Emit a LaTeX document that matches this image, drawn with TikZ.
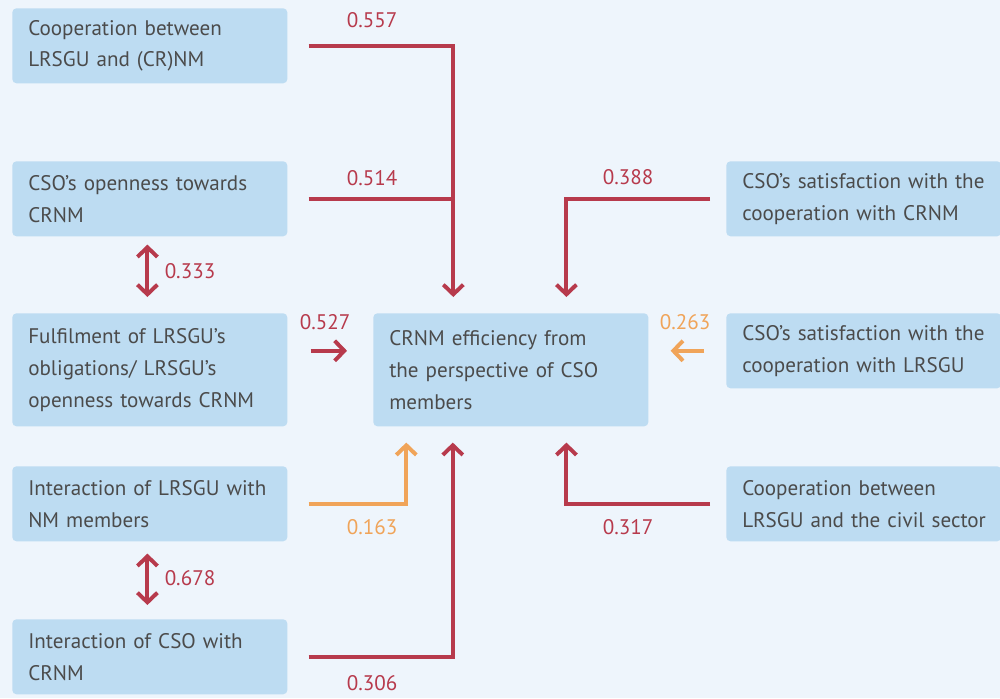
\documentclass[tikz,border=0pt]{standalone}
\usepackage{fontspec}
\setmainfont{PT Sans}
\usepackage{xcolor}
\usetikzlibrary{calc,arrows.meta}
\definecolor{bgblue}{HTML}{EEF5FC}
\definecolor{boxblue}{HTML}{BDDCF2}
\definecolor{txtgray}{HTML}{4B4B4B}
\definecolor{linkred}{HTML}{B73A4C}
\definecolor{linkorange}{HTML}{F0A459}
\tikzset{every node/.append style={font=\fontsize{15}{22.7}\selectfont}}
\tikzset{
  box/.style={fill=boxblue, rounded corners=3pt, anchor=north west, text=txtgray,
    minimum width=6.875cm, minimum height=1.875cm, text width=6.075cm,
    inner xsep=0.4cm, align=left},
  tallbox/.style={box, minimum height=2.825cm},
  link/.style={line width=2.8pt, linkred, -{Straight Barb[length=2.4mm,width=5mm]}},
  weak/.style={link, linkorange},
  both/.style={link, {Straight Barb[length=2.4mm,width=5mm]}-{Straight Barb[length=2.4mm,width=5mm]}},
  coef/.style={text=linkred},
  weakcoef/.style={text=linkorange}
}

\begin{document}
\begin{tikzpicture}[x=0.025cm, y=-0.025cm]
    \fill[bgblue] (0,0) rectangle (1000,698);
    \useasboundingbox (0,0) rectangle (1000,698);
    % left column
    \node[box] (coop) at (12,8) {Cooperation between\\LRSGU and (CR)NM};
    \node[box] (open) at (12,161) {CSO’s openness towards\\CRNM};
    \node[tallbox] (oblig) at (12,313) {Fulfilment of LRSGU’s\\obligations/ LRSGU’s\\openness towards CRNM};
    \node[box] (inter) at (12,466) {Interaction of LRSGU with\\NM members};
    \node[box] (csoint) at (12,619) {Interaction of CSO with\\CRNM};
    % centre
    \node[tallbox] (eff) at (373,313) {CRNM efficiency from\\the perspective of CSO\\members};
    % right column
    \node[box] (satcr) at (726,161) {CSO’s satisfaction with the\\cooperation with CRNM};
    \node[box] (satlr) at (726,313) {CSO’s satisfaction with the\\cooperation with LRSGU};
    \node[box] (civil) at (726,466) {Cooperation between\\\mbox{LRSGU and the civil sector}};

    \coordinate (jl) at ($(eff.north)+(-57.5,0)$);
    \draw[link, shorten <=0.525cm, shorten >=0.4cm] (coop.east) -| (jl);
    \draw[link, -, shorten <=0.525cm] (open.east) -- (open.east -| jl);
    \draw[link, shorten <=0.4cm, shorten >=0.4cm] (satcr.west) -| ([xshift=1.39cm]eff.north);
    \draw[link, shorten <=0.575cm, shorten >=0.65cm] ([yshift=0.475cm]oblig.east) -- ([yshift=0.475cm]eff.west);
    \draw[weak, shorten <=0.55cm, shorten >=0.55cm] (satlr.west) -- (satlr.west -| eff.east);
    \draw[weak, shorten <=0.525cm, shorten >=0.4cm] (inter.east) -| ([xshift=-2.6125cm]eff.south);
    \draw[link, shorten <=0.525cm, shorten >=0.4cm] (csoint.east) -| ([xshift=-1.45cm]eff.south);
    \draw[link, shorten <=0.4cm, shorten >=0.4cm] (civil.west) -| ([xshift=1.39cm]eff.south);
    \draw[both, shorten <=0.2cm, shorten >=0.4cm] ([xshift=-0.06cm]open.south) -- ([xshift=-0.06cm]oblig.north);
    \draw[both, shorten <=0.3cm, shorten >=0.35cm] ([xshift=-0.06cm]inter.south) -- ([xshift=-0.06cm]csoint.north);

    \node[coef] (c557) at (372,20) {0.557};
    \node[coef] (c514) at (372,178) {0.514};
    \node[coef] (c388) at (628,177) {0.388};
    \node[coef] (c527) at (325,322) {0.527};
    \node[weakcoef] (c263) at (685,322) {0.263};
    \node[weakcoef] (c163) at (372,527) {0.163};
    \node[coef] (c306) at (372,683) {0.306};
    \node[coef] (c317) at (628,527) {0.317};
    \node[coef] (c333) at (190,271) {0.333};
    \node[coef] (c678) at (190,578) {0.678};
\end{tikzpicture}
\end{document}
